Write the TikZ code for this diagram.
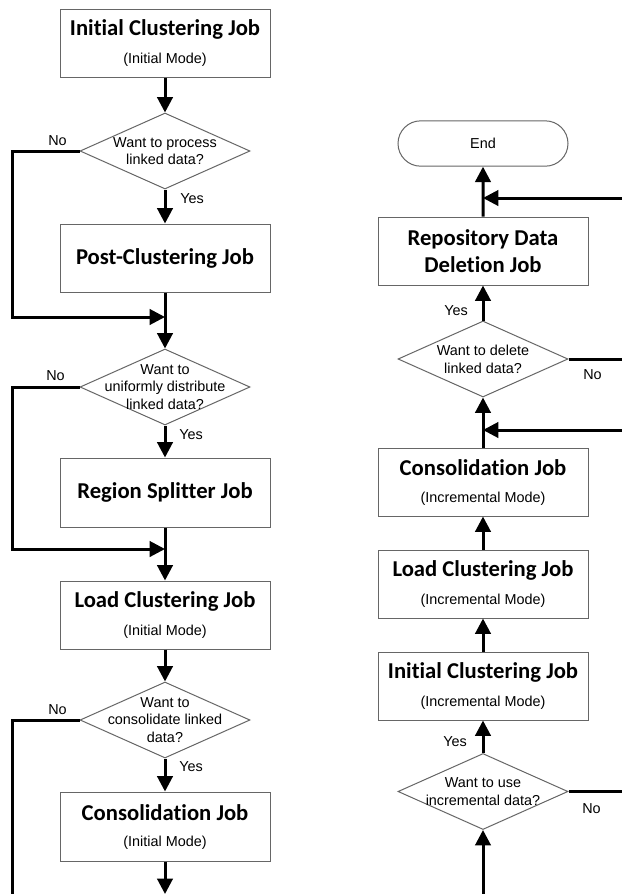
\documentclass[tikz,border=0pt]{standalone}
\usepackage{fontspec}
\setmainfont{Liberation Sans}
\newfontfamily\carlito[Ligatures=NoCommon]{Carlito}
\usetikzlibrary{arrows.meta,shapes.geometric,shapes.misc,calc}
\definecolor{boxgray}{HTML}{666666}
\newcommand\titlef{\carlito\bfseries\fontsize{17}{20.5}\selectfont}
\newcommand\subf{\fontsize{10.8}{13.3}\selectfont}
\begin{document}
\begin{tikzpicture}[x=0.75pt,y=-0.75pt,
 job/.style={draw=boxgray,line width=0.75pt,minimum width=157.5pt,minimum height=51pt,inner sep=0pt,align=center,font=\titlef},
 ttl/.style={label={[font=\titlef,inner sep=0pt,yshift=10.5pt]center:#1}},
 sub/.style={label={[font=\subf,inner sep=0pt,yshift=-12.5pt]center:#1}},
 dec/.style={draw=boxgray,line width=0.75pt,diamond,minimum width=127.5pt,minimum height=57pt,inner sep=0pt},
 dtxt/.style={label={[font=\subf,align=center,inner sep=0pt]center:#1}},
 term/.style={draw=boxgray,line width=0.75pt,rounded rectangle,minimum width=127.5pt,minimum height=34pt,inner sep=0pt,font=\subf},
 conn/.style={line width=2.25pt},
 arr/.style={conn,-{Triangle[width=11.5pt,length=11.5pt]}},
 lbl/.style={font=\subf,inner sep=0pt},
]
\fill[white] (0,0) rectangle (622,894);
\useasboundingbox (0,0) rectangle (622,894);

% left column
\node[job,ttl={Initial Clustering Job},sub={(Initial Mode)}] (b1) at (165,43) {};
\node[dec,dtxt={Want to process\\linked data?}] (d1) at (165,151) {};
\node[job] (b2) at (165,258) {Post-Clustering Job};
\node[dec,dtxt={Want to\\uniformly distribute\\linked data?}] (d2) at (165,387) {};
\node[job,minimum height=51.75pt] (b3) at (165,492.5) {Region Splitter Job};
\node[job,ttl={Load Clustering Job},sub={(Initial Mode)}] (b4) at (165,615) {};
\node[dec,dtxt={Want to\\consolidate linked\\data?}] (d3) at (165,720) {};
\node[job,minimum height=51.75pt,ttl={Consolidation Job},sub={(Initial Mode)}] (b5) at (165,826.5) {};

\coordinate (c1) at (12,317);
\coordinate (m1) at (165,317);
\coordinate (c2) at (12,549);
\coordinate (m2) at (165,549);
\coordinate (c3) at (12,894);
\coordinate (c4) at (165,894);

\draw[arr] (b1) -- (d1);
\draw[arr] (d1) -- (b2);
\draw[arr] (b2) -- (d2);
\draw[arr] (d1.west) -| (c1) -- (m1);
\draw[arr] (d2) -- (b3);
\draw[arr] (b3) -- (b4);
\draw[arr] (d2.west) -| (c2) -- (m2);
\draw[arr] (b4) -- (d3);
\draw[arr] (d3) -- (b5);
\draw[conn] (d3.west) -| (c3);
\draw[arr] (b5) -- (c4);

\node[lbl] at ($(d1.west)+(-22,-10)$) {No};
\node[lbl] at ($(d2.west)+(-24,-11)$) {No};
\node[lbl] at ($(d3.west)+(-22,-10)$) {No};
\node[lbl] at ($(d1.south)+(27,9)$) {Yes};
\node[lbl] at ($(d2.south)+(26,9)$) {Yes};
\node[lbl] at ($(d3.south)+(26,8)$) {Yes};

% right column
\node[term] (end) at (483,143.5) {End};
\node[job] (r1) at (483,251) {Repository Data\\Deletion Job};
\node[dec,dtxt={Want to delete\\linked data?}] (dd) at (483,359) {};
\node[job,ttl={Consolidation Job},sub={(Incremental Mode)}] (r2) at (483,482) {};
\node[job,ttl={Load Clustering Job},sub={(Incremental Mode)}] (r3) at (483,584) {};
\node[job,ttl={Initial Clustering Job},sub={(Incremental Mode)}] (r4) at (483,686) {};
\node[dec,dtxt={Want to use\\incremental data?}] (di) at (483,791.5) {};

\coordinate (n1) at (622,791.5);
\coordinate (n2) at (622,359);
\coordinate (n3) at (622,430);
\coordinate (m3) at (483,430);
\coordinate (n4) at (622,198);
\coordinate (m4) at (483,198);
\coordinate (rb) at (483,894);

\draw[arr] (rb) -- (di);
\draw[arr] (di) -- (r4);
\draw[arr] (r4) -- (r3);
\draw[arr] (r3) -- (r2);
\draw[arr] (r2) -- (dd);
\draw[arr] (n3) -- (m3);
\draw[arr] (dd) -- (r1);
\draw[arr] (r1) -- (end);
\draw[arr] (n4) -- (m4);
\draw[conn] (dd.east) -- (n2);
\draw[conn] (di.east) -- (n1);

\node[lbl] at ($(dd.north)+(-27,-10)$) {Yes};
\node[lbl] at ($(di.north)+(-28,-11)$) {Yes};
\node[lbl] at ($(dd.east)+(24,16)$) {No};
\node[lbl] at ($(di.east)+(23,17)$) {No};
\end{tikzpicture}
\end{document}
